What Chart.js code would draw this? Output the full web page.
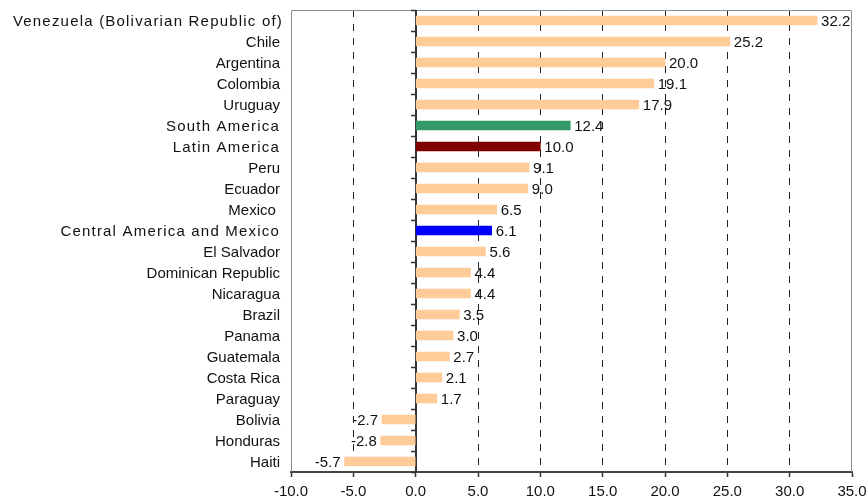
<!DOCTYPE html>
<html>
<head>
<meta charset="utf-8">
<script src="https://cdn.jsdelivr.net/npm/chart.js@4/dist/chart.umd.min.js"></script>
<style>
  html, body { margin: 0; padding: 0; background: #fff; }
  #wrap { width: 868px; height: 504px; }
</style>
</head>
<body>
<div id="wrap"><canvas id="c" width="868" height="504"></canvas></div>
<script>
// Change by country and regional aggregate (per cent)
const categories = [
  'Venezuela (Bolivarian Republic of)', 'Chile', 'Argentina', 'Colombia', 'Uruguay',
  'South America', 'Latin America', 'Peru', 'Ecuador', 'Mexico ',
  'Central America and Mexico', 'El Salvador', 'Dominican Republic', 'Nicaragua',
  'Brazil', 'Panama', 'Guatemala', 'Costa Rica', 'Paraguay', 'Bolivia', 'Honduras', 'Haiti'
];
const values = [
  32.2, 25.2, 20.0, 19.1, 17.9,
  12.4, 10.0, 9.1, 9.0, 6.5,
  6.1, 5.6, 4.4, 4.4,
  3.5, 3.0, 2.7, 2.1, 1.7, -2.7, -2.8, -5.7
];
// Kind of each row: individual country or regional aggregate
const kinds = [
  'country', 'country', 'country', 'country', 'country',
  'south', 'latin', 'country', 'country', 'country',
  'central', 'country', 'country', 'country',
  'country', 'country', 'country', 'country', 'country', 'country', 'country', 'country'
];
const xTicks = [-10, -5, 0, 5, 10, 15, 20, 25, 30, 35];

const kindColors = { country: '#FFCC99', south: '#339966', latin: '#800000', central: '#0000FF' };
const FONT = '"Liberation Sans", Arial, sans-serif';

// Category names on the left, aggregates drawn slightly letter-spaced
const categoryLabels = {
  id: 'categoryLabels',
  afterDraw(chart) {
    const { ctx, scales: { y } } = chart;
    ctx.save();
    ctx.font = '15px ' + FONT;
    ctx.fillStyle = '#111';
    ctx.textAlign = 'right';
    ctx.textBaseline = 'middle';
    categories.forEach((name, i) => {
      const py = y.getPixelForValue(i) + 1;
      const spaced = kinds[i] !== 'country' || i === 0;
      ctx.letterSpacing = spaced ? '1.2px' : '0px';
      ctx.fillText(name, i === 0 ? 283 : 280, py);
    });
    ctx.restore();
  }
};

// Frame, zero line with category ticks
const frame = {
  id: 'frame',
  beforeDatasetsDraw(chart) {
    const { ctx, chartArea: a, scales: { x, y } } = chart;
    ctx.save();
    ctx.strokeStyle = '#8c8c8c';
    ctx.lineWidth = 1;
    ctx.beginPath();
    ctx.moveTo(a.left + 0.5, a.bottom);
    ctx.lineTo(a.left + 0.5, a.top + 0.5);
    ctx.lineTo(a.right - 0.5, a.top + 0.5);
    ctx.lineTo(a.right - 0.5, a.bottom);
    ctx.stroke();
    const x0 = Math.round(x.getPixelForValue(0));
    ctx.strokeStyle = '#333';
    ctx.lineWidth = 2;
    ctx.beginPath();
    ctx.moveTo(x0, a.top);
    ctx.lineTo(x0, a.bottom);
    ctx.stroke();
    ctx.lineWidth = 1.5;
    const n = categories.length;
    for (let i = 0; i <= n; i++) {
      const py = Math.round(y.getPixelForValue(i - 0.5)) + 0.5;
      ctx.beginPath();
      ctx.moveTo(x0 - 5, py);
      ctx.lineTo(x0, py);
      ctx.stroke();
    }
    ctx.restore();
  }
};

// Value printed beside each bar
const valueLabels = {
  id: 'valueLabels',
  afterDatasetsDraw(chart) {
    const { ctx } = chart;
    const meta = chart.getDatasetMeta(0);
    ctx.save();
    ctx.font = '15px ' + FONT;
    ctx.fillStyle = '#111';
    ctx.textBaseline = 'middle';
    meta.data.forEach((bar, i) => {
      const v = values[i];
      const txt = v.toFixed(1);
      if (v >= 0) {
        ctx.textAlign = 'left';
        ctx.fillText(txt, bar.x + 4, bar.y + 1);
      } else {
        ctx.textAlign = 'right';
        ctx.fillText(txt, bar.x - 4, bar.y + 1);
      }
    });
    ctx.restore();
  }
};

new Chart(document.getElementById('c'), {
  type: 'bar',
  data: {
    labels: categories,
    datasets: [{
      data: values,
      backgroundColor: kinds.map(k => kindColors[k]),
      barThickness: 9,
      borderWidth: 0
    }]
  },
  options: {
    indexAxis: 'y',
    responsive: false,
    animation: false,
    devicePixelRatio: 1,
    layout: { padding: { top: 10, right: 16, left: 0, bottom: 0 } },
    plugins: { legend: { display: false }, tooltip: { enabled: false } },
    scales: {
      x: {
        type: 'linear',
        min: -10,
        max: 35,
        afterBuildTicks(scale) { scale.ticks = xTicks.map(v => ({ value: v })); },
        afterFit(scale) {
          scale.height = 32;
          scale.paddingLeft = 0;
          scale.paddingRight = 0;
        },
        ticks: {
          callback: v => Number(v).toFixed(1),
          color: '#111',
          font: { family: FONT, size: 15 },
          padding: 6,
          maxRotation: 0,
          autoSkip: false
        },
        grid: {
          color: ctx => {
            const v = ctx.tick && ctx.tick.value;
            return (v === -10 || v === 0 || v === 35) ? 'rgba(0,0,0,0)' : '#222';
          },
          lineWidth: 1,
          drawTicks: true,
          tickLength: 5,
          tickColor: '#333',
          tickWidth: 1.5
        },
        border: { display: true, color: '#444', width: 2, dash: [7, 7] }
      },
      y: {
        type: 'category',
        afterFit(scale) { scale.width = 291; },
        ticks: { display: false },
        grid: { display: false, drawTicks: false },
        border: { display: false }
      }
    }
  },
  plugins: [frame, valueLabels, categoryLabels]
});
</script>
</body>
</html>
